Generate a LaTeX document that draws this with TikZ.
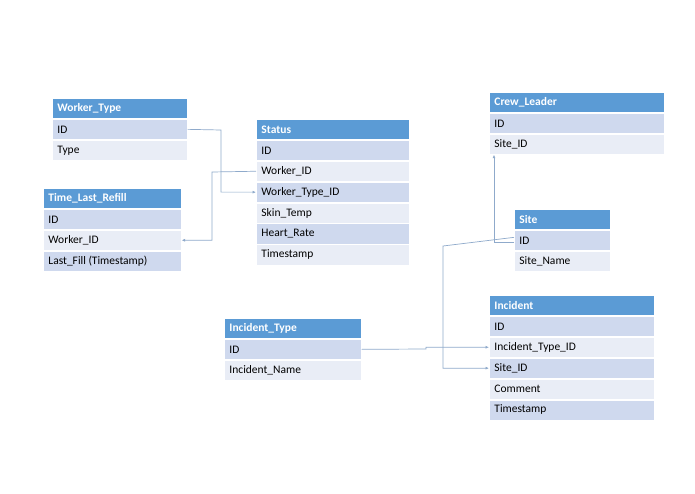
\documentclass[tikz,border=0pt]{standalone}
\usepackage{fontspec}
\setmainfont{Carlito}
\usetikzlibrary{arrows.meta}
\definecolor{hdr}{HTML}{5B9BD5}
\definecolor{rowA}{HTML}{CFD9EE}
\definecolor{rowB}{HTML}{E9EDF6}
\definecolor{lnk}{HTML}{8FAACB}
\tikzset{
  cell/.style={anchor=north west,minimum height=20.3pt,inner sep=0pt,text height=8pt,text depth=2pt,align=left,font=\fontsize{11.5}{13}\selectfont,draw=white,line width=0.6pt,text width=#1},
  head/.style={cell=#1,fill=hdr,text=white,font=\fontsize{11.5}{13}\selectfont\bfseries},
  odd/.style={cell=#1,fill=rowA},
  even/.style={cell=#1,fill=rowB},
  link/.style={draw=lnk,line width=0.7pt,-{Latex[length=3.5pt,width=3pt]}},
}
% \erTbl{name}{x}{y}{width}{title}{rows}
\newcommand\erTbl[6]{%
  \node[head=#4,label={[anchor=west,text=white,font=\fontsize{11.5}{13}\selectfont\bfseries]west:\,#5}] (#1-0) at (#2,#3) {};
  \foreach \t [count=\i] in {#6}{%
    \pgfmathtruncatemacro\pr{\i-1}%
    \ifodd\i \def\sty{odd}\else\def\sty{even}\fi
    \node[\sty=#4,label={[anchor=west,font=\fontsize{11.5}{13}\selectfont]west:\,\t}] (#1-\i) at (#1-\pr.south west) {};
  }}
\begin{document}
\begin{tikzpicture}[x=1pt,y=-1pt]
\useasboundingbox[fill=white] (0,0) rectangle (695,494);
\erTbl{wt}{52}{98}{135pt}{Worker\_Type}{ID,Type}
\erTbl{tlr}{43}{188}{138pt}{Time\_Last\_Refill}{ID,Worker\_ID,Last\_Fill (Timestamp)}
\erTbl{st}{256}{119}{153pt}{Status}{ID,Worker\_ID,Worker\_Type\_ID,Skin\_Temp,Heart\_Rate,Timestamp}
\erTbl{cl}{489}{92}{175pt}{Crew\_Leader}{ID,Site\_ID}
\erTbl{si}{514}{209}{96pt}{Site}{ID,Site\_Name}
\erTbl{it}{224}{318}{137pt}{Incident\_Type}{ID,Incident\_Name}
\erTbl{in}{489}{295}{165pt}{Incident}{ID,Incident\_Type\_ID,Site\_ID,Comment,Timestamp}
\draw[link] (wt-1.east) -- (221,130) |- (st-3.west);
\draw[link] (st-2.west) -- (212,172) |- (tlr-2.east);
\draw[link] ([yshift=-2pt]si-1.west) -| (cl-2.south -| 494,0);
\draw[link] ([yshift=3pt]si-1.west) -- (443,246) |- (in-3.west);
\draw[link] (it-1.east) -- (426,349) |- (in-2.west);
\end{tikzpicture}
\end{document}
